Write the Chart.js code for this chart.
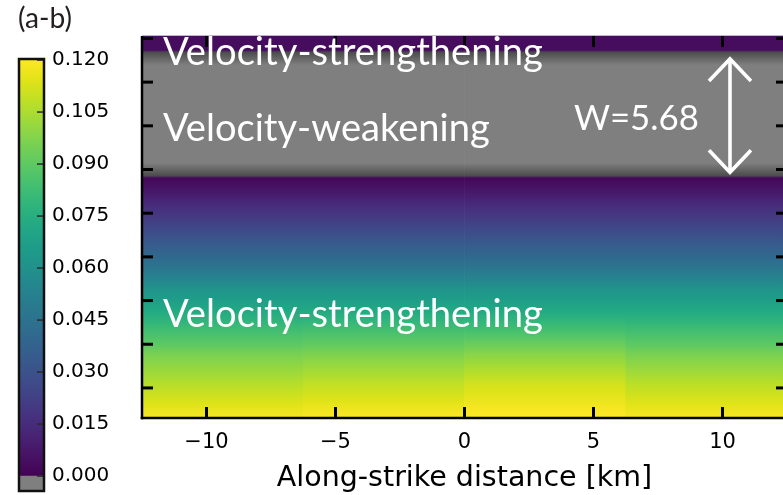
<!DOCTYPE html>
<html>
<head>
<meta charset="utf-8">
<script src="https://cdn.jsdelivr.net/npm/chart.js@4.4.1/dist/chart.umd.min.js"></script>
<style>
  html, body { margin: 0; padding: 0; background: #fff; overflow: hidden; width: 783px; height: 495px; }
  #wrap { position: relative; width: 783px; height: 495px; overflow: hidden; }
  canvas { position: absolute; top: 0; left: 0; }
</style>
</head>
<body>
<div id="wrap">
  <canvas id="field" width="800" height="495"></canvas>
  <canvas id="cbar" width="140" height="495"></canvas>
</div>
<script>
// ---- data -------------------------------------------------------------
// along-strike centres of the four model columns (km); each column is 6.25 km wide
const columnCentersKm = [-9.375, -3.125, 3.125, 9.375];
const xTicksKm = [-10, -5, 0, 5, 10];

// down-dip coordinate of the profile nodes (same units as the width W)
const depthNodes = [-0.12, 0.57, 1.31, 6.13, 6.87, 7.46, 8.19, 9.18, 9.92, 10.90,
                    11.39, 12.38, 13.36, 14.35, 15.09, 15.58, 17.05, 18.68];
const depthTicks = [0, 2.15, 4.3, 6.45, 8.6, 10.75, 12.9, 15.05, 17.2];

// (a-b) at each node, one array per column; negative = velocity weakening
const abColumn1 = [0.004, 0.004, -0.004, -0.004, 0.002, 0.007, 0.0145, 0.024, 0.032, 0.042,
                   0.048, 0.062, 0.072, 0.083, 0.090, 0.096, 0.107, 0.119];
const abColumn2 = [0.004, 0.004, -0.004, -0.004, 0.002, 0.007, 0.0145, 0.024, 0.032, 0.042,
                   0.048, 0.062, 0.072, 0.084, 0.091, 0.097, 0.109, 0.120];
const abColumn3 = [0.004, 0.004, -0.004, -0.004, 0.002, 0.007, 0.0145, 0.024, 0.032, 0.042,
                   0.048, 0.062, 0.072, 0.084, 0.093, 0.099, 0.112, 0.121];
const abColumn4 = [0.004, 0.004, -0.004, -0.004, 0.002, 0.007, 0.0145, 0.024, 0.032, 0.042,
                   0.048, 0.062, 0.072, 0.083, 0.090, 0.096, 0.108, 0.119];

// velocity-weakening zone: top and width W
const vwTop = 0.96;
const vwWidth = 5.68;

// colour bar
const colorbarTicks = [0, 0.015, 0.03, 0.045, 0.06, 0.075, 0.09, 0.105, 0.12];
const colorbarMin = -0.0043;
const colorbarMax = 0.1203;

// ---- colour map -------------------------------------------------------
const VMIN = 0, VMAX = 0.12;
const VIRIDIS = ['#440154', '#471365', '#482475', '#463480', '#414487', '#3b528b', '#355f8d',
                 '#2f6c8e', '#2a788e', '#25848e', '#21918c', '#1e9c89', '#22a884', '#2fb47c',
                 '#44bf70', '#5ec962', '#7ad151', '#9bd93c', '#bddf26', '#dfe318', '#fde725'];
const GRAY = '#7f7f7f';
const EDGE_GRAY = '#4c4c4c';

function hexRgb(h) {
  return [parseInt(h.slice(1, 3), 16), parseInt(h.slice(3, 5), 16), parseInt(h.slice(5, 7), 16)];
}
const VIRIDIS_RGB = VIRIDIS.map(hexRgb);

function viridis(t) {
  t = Math.max(0, Math.min(1, t));
  const n = VIRIDIS_RGB.length - 1;
  const f = t * n;
  const i = Math.min(Math.floor(f), n - 1);
  const u = f - i;
  const a = VIRIDIS_RGB[i], b = VIRIDIS_RGB[i + 1];
  const c = a.map((v, k) => Math.round(v + (b[k] - v) * u));
  return `rgb(${c[0]},${c[1]},${c[2]})`;
}

function abColor(v) {
  return v < 0 ? GRAY : viridis((v - VMIN) / (VMAX - VMIN));
}

// ---- heat map bands ---------------------------------------------------
const columns = [abColumn1, abColumn2, abColumn3, abColumn4];

function bandFill(ctx, band) {
  if (ctx.type !== 'data') return GRAY;
  const vals = columns[ctx.dataIndex];
  const v0 = vals[band], v1 = vals[band + 1];
  const chart = ctx.chart;
  const ys = chart.scales && chart.scales.y;
  if (!chart.chartArea || !ys) return abColor(v0);
  const y0 = ys.getPixelForValue(depthNodes[band]);
  const y1 = ys.getPixelForValue(depthNodes[band + 1]);
  const g = chart.ctx.createLinearGradient(0, y0, 0, y1);
  if (v0 < 0 && v1 < 0) {
    g.addColorStop(0, GRAY); g.addColorStop(1, GRAY);
  } else if (v0 < 0) {
    g.addColorStop(0, GRAY); g.addColorStop(0.85, EDGE_GRAY); g.addColorStop(1, abColor(v1));
  } else if (v1 < 0) {
    g.addColorStop(0, abColor(v0)); g.addColorStop(0.15, EDGE_GRAY); g.addColorStop(1, GRAY);
  } else {
    for (let k = 0; k <= 6; k++) {
      const t = k / 6;
      g.addColorStop(t, abColor(v0 + (v1 - v0) * t));
    }
  }
  return g;
}

const fieldDatasets = depthNodes.slice(0, -1).map((d, i) => ({
  data: columnCentersKm.map(x => ({ x: x, y: [depthNodes[i], depthNodes[i + 1]] })),
  backgroundColor: ctx => bandFill(ctx, i),
  borderWidth: 0,
  stack: 'field',
  barThickness: 'flex',
  barPercentage: 1,
  categoryPercentage: 1
}));

// ---- drawing helpers --------------------------------------------------
const ANNOT_FONT = 'Lato, "Open Sans", sans-serif';

function fitText(ctx, text, x, baseline, width, color) {
  ctx.font = `100px ${ANNOT_FONT}`;
  const size = 100 * width / ctx.measureText(text).width;
  ctx.font = `${size}px ${ANNOT_FONT}`;
  ctx.fillStyle = color;
  ctx.textAlign = 'left';
  ctx.textBaseline = 'alphabetic';
  ctx.fillText(text, x, baseline);
}

function line(ctx, x0, y0, x1, y1) {
  ctx.beginPath(); ctx.moveTo(x0, y0); ctx.lineTo(x1, y1); ctx.stroke();
}

// frame with inward ticks, zone labels and the W arrow
const fieldOverlay = {
  id: 'fieldOverlay',
  afterDraw(chart) {
    const ctx = chart.ctx;
    const { left, right, top, bottom } = chart.chartArea;
    const xs = chart.scales.x, ys = chart.scales.y;
    ctx.save();

    // light top edge
    ctx.strokeStyle = '#c2b4d0'; ctx.lineWidth = 1;
    line(ctx, left, top - 0.5, right, top - 0.5);

    // spines
    ctx.strokeStyle = '#000'; ctx.lineWidth = 2.5; ctx.lineCap = 'butt';
    line(ctx, left, top, left, bottom + 1.25);
    line(ctx, left - 1.25, bottom, right, bottom);
    line(ctx, right, top, right, bottom + 1.25);

    // inward ticks on all four sides
    const tl = 11;
    ctx.lineWidth = 3;
    xs.ticks.forEach(t => {
      const px = xs.getPixelForValue(t.value);
      line(ctx, px, bottom, px, bottom - tl);
      line(ctx, px, top, px, top + tl);
    });
    ys.ticks.forEach(t => {
      const py = ys.getPixelForValue(t.value);
      line(ctx, left, py, left + tl, py);
      line(ctx, right, py, right - tl, py);
    });

    // zone labels
    const lx = xs.getPixelForValue(-11.69);
    fitText(ctx, 'Velocity-strengthening', lx, ys.getPixelForValue(1.33), 380, '#fff');
    fitText(ctx, 'Velocity-weakening', lx, ys.getPixelForValue(5.07), 327, '#fff');
    fitText(ctx, 'Velocity-strengthening', lx, ys.getPixelForValue(14.22), 380, '#fff');
    fitText(ctx, 'W=' + vwWidth.toFixed(2), xs.getPixelForValue(4.24), ys.getPixelForValue(4.51), 125, '#fff');

    // double arrow spanning the velocity-weakening width
    const ax = xs.getPixelForValue(10.29);
    const ay0 = ys.getPixelForValue(vwTop);
    const ay1 = ys.getPixelForValue(vwTop + vwWidth);
    ctx.strokeStyle = '#fff'; ctx.lineWidth = 3.6; ctx.lineJoin = 'miter'; ctx.lineCap = 'butt';
    line(ctx, ax, ay0 + 2, ax, ay1 - 2);
    const hw = 21, hh = 23;
    ctx.beginPath();
    ctx.moveTo(ax - hw, ay0 + hh); ctx.lineTo(ax, ay0 + 1); ctx.lineTo(ax + hw, ay0 + hh);
    ctx.stroke();
    ctx.beginPath();
    ctx.moveTo(ax - hw, ay1 - hh); ctx.lineTo(ax, ay1 - 1); ctx.lineTo(ax + hw, ay1 - hh);
    ctx.stroke();

    ctx.restore();
  }
};

// ---- main panel -------------------------------------------------------
new Chart(document.getElementById('field'), {
  type: 'bar',
  data: { datasets: fieldDatasets },
  options: {
    responsive: false,
    animation: false,
    events: [],
    devicePixelRatio: 1,
    layout: { padding: { left: 142, top: 36, right: 13, bottom: 0 } },
    plugins: { legend: { display: false }, tooltip: { enabled: false } },
    scales: {
      x: {
        type: 'linear', min: -12.5, max: 12.5, offset: false,
        afterBuildTicks: s => { s.ticks = xTicksKm.map(v => ({ value: v })); },
        afterFit: s => { s.height = 77; },
        grid: { display: false, drawTicks: false },
        border: { display: false },
        ticks: {
          padding: 12, maxRotation: 0, autoSkip: false, color: '#000',
          font: { family: 'DejaVu Sans', size: 21 },
          callback: v => String(v).replace('-', '\u2212')
        },
        title: {
          display: true, text: 'Along-strike distance [km]', color: '#000',
          font: { family: 'DejaVu Sans', size: 28.5 }, padding: { top: 0, bottom: -1 }
        }
      },
      y: {
        type: 'linear', reverse: true, min: -0.12, max: 18.68, stacked: false, offset: false,
        afterBuildTicks: s => { s.ticks = depthTicks.map(v => ({ value: v })); },
        afterFit: s => { s.width = 0; },
        grid: { display: false, drawTicks: false },
        border: { display: false },
        ticks: { display: false }
      }
    }
  },
  plugins: [fieldOverlay]
});

// ---- colour bar -------------------------------------------------------
function colormapFill(ctx) {
  const chart = ctx.chart;
  const ys = chart.scales && chart.scales.y;
  if (!chart.chartArea || !ys) return VIRIDIS[10];
  const g = chart.ctx.createLinearGradient(0, ys.getPixelForValue(VMIN), 0, ys.getPixelForValue(VMAX));
  VIRIDIS.forEach((c, i) => g.addColorStop(i / (VIRIDIS.length - 1), c));
  return g;
}

const colorbarFrame = {
  id: 'colorbarFrame',
  afterDraw(chart) {
    const ctx = chart.ctx;
    const { left, right, top, bottom } = chart.chartArea;
    const ys = chart.scales.y;
    ctx.save();
    ctx.strokeStyle = '#2a2a2a'; ctx.lineWidth = 1.5;
    ys.ticks.forEach(t => {
      const py = ys.getPixelForValue(t.value);
      line(ctx, right - 7, py, right, py);
    });
    ctx.strokeStyle = '#111'; ctx.lineWidth = 2.5;
    ctx.strokeRect(left, top, right - left, bottom - top);
    fitText(ctx, '(a-b)', 18, 28, 54, '#231f20');
    ctx.restore();
  }
};

new Chart(document.getElementById('cbar'), {
  type: 'bar',
  data: {
    labels: [''],
    datasets: [
      { data: [[colorbarMin, VMIN]], backgroundColor: GRAY, borderWidth: 0, stack: 'cb',
        barPercentage: 1, categoryPercentage: 1 },
      { data: [[VMIN, VMAX]], backgroundColor: colormapFill, borderWidth: 0, stack: 'cb',
        barPercentage: 1, categoryPercentage: 1 }
    ]
  },
  options: {
    responsive: false,
    animation: false,
    events: [],
    devicePixelRatio: 1,
    layout: { padding: { left: 19, top: 59, right: 0, bottom: 4 } },
    plugins: { legend: { display: false }, tooltip: { enabled: false } },
    scales: {
      x: { display: false },
      y: {
        position: 'right', min: colorbarMin, max: colorbarMax, stacked: false,
        afterBuildTicks: s => { s.ticks = colorbarTicks.map(v => ({ value: v })); },
        afterFit: s => { s.width = 96; s.paddingTop = 0; s.paddingBottom = 0; },
        grid: { display: false, drawTicks: false },
        border: { display: false },
        ticks: {
          padding: 8, color: '#000',
          font: { family: 'DejaVu Sans', size: 20 },
          callback: v => Number(v).toFixed(3)
        }
      }
    }
  },
  plugins: [colorbarFrame]
});
</script>
</body>
</html>
